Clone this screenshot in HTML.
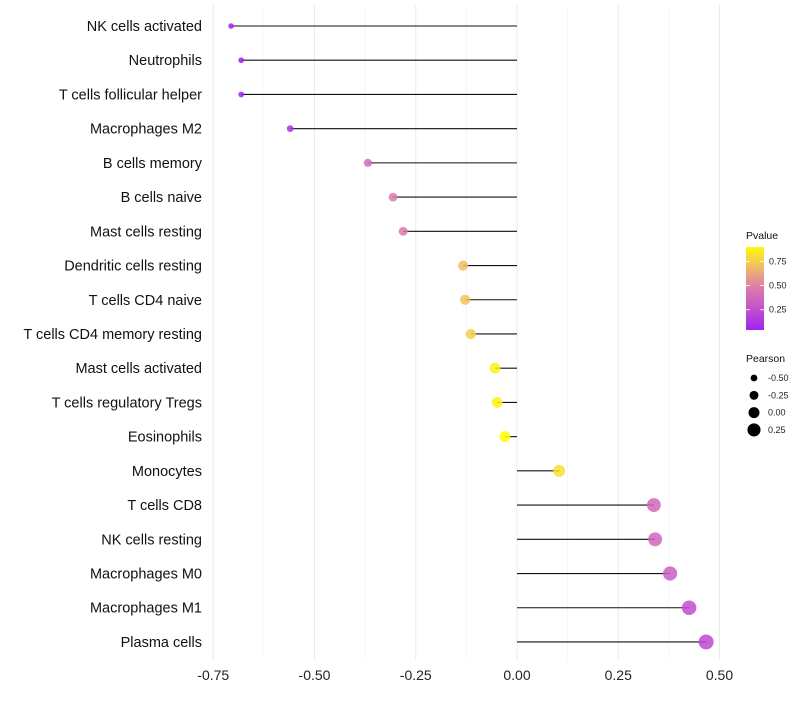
<!DOCTYPE html>
<html><head><meta charset="utf-8"><style>
body{margin:0;background:#fff;font-family:"Liberation Sans",sans-serif;}
svg text{font-family:"Liberation Sans",sans-serif;}
</style></head><body>
<svg id="c" width="800" height="700"></svg>
<script>
const categories=["NK cells activated","Neutrophils","T cells follicular helper","Macrophages M2","B cells memory","B cells naive","Mast cells resting","Dendritic cells resting","T cells CD4 naive","T cells CD4 memory resting","Mast cells activated","T cells regulatory  Tregs ","Eosinophils","Monocytes","T cells CD8","NK cells resting","Macrophages M0","Macrophages M1","Plasma cells"];
const pearson=[-0.706,-0.681,-0.681,-0.560,-0.368,-0.306,-0.281,-0.133,-0.128,-0.114,-0.054,-0.049,-0.030,0.104,0.338,0.341,0.378,0.425,0.467];
const pvalues=[0.03,0.03,0.03,0.10,0.40,0.47,0.47,0.70,0.72,0.76,0.88,0.88,0.92,0.82,0.38,0.36,0.32,0.25,0.22];
const xTicks=[-0.75,-0.5,-0.25,0,0.25,0.5];
const xTickLabels=["-0.75","-0.50","-0.25","0.00","0.25","0.50"];
const pTicks=[0.25,0.5,0.75];
const sizeTicks=[-0.5,-0.25,0,0.25];

const NS="http://www.w3.org/2000/svg";
const svg=document.getElementById('c');
function mk(t,a,p){const e=document.createElementNS(NS,t);for(const k in a)e.setAttribute(k,a[k]);(p||svg).appendChild(e);return e;}
const x=v=>517+v*405;
const y=i=>26+i*34.22;
const r=v=>Math.max(2,5.6+v*4);
const stops=[[0.03,[160,32,240]],[0.3,[200,90,200]],[0.5,[222,128,165]],[0.7,[240,190,100]],[0.92,[255,255,0]]];
function col(p){p=Math.max(0.03,Math.min(0.92,p));for(let i=0;i<stops.length-1;i++){const[a,ca]=stops[i],[b,cb]=stops[i+1];if(p<=b){const t=(p-a)/(b-a);return 'rgb('+ca.map((c,j)=>Math.round(c+(cb[j]-c)*t)).join(',')+')';}}return 'rgb(255,255,0)';}

for(let i=0;i<xTicks.length;i++){
  const g=mk('line',{x1:x(xTicks[i]),x2:x(xTicks[i]),y1:5,y2:660,stroke:'#ebebeb','stroke-width':1});
  
  if(i<xTicks.length-1){const m=(xTicks[i]+xTicks[i+1])/2;const g2=mk('line',{x1:x(m),x2:x(m),y1:5,y2:660,stroke:'#f6f6f6','stroke-width':1});
  }
  const t=mk('text',{x:x(xTicks[i]),y:680,'text-anchor':'middle','font-size':14,fill:'#222'});t.textContent=xTickLabels[i];
  
}
for(let i=0;i<categories.length;i++){
  const yy=y(i);
  const t=mk('text',{x:202,y:yy+5,'text-anchor':'end','font-size':14.5,fill:'#111'});t.textContent=categories[i];
  
  const l=mk('line',{x1:x(0),x2:x(pearson[i]),y1:yy,y2:yy,stroke:'#111','stroke-width':1.1});
  
  const c=mk('circle',{cx:x(pearson[i]),cy:yy,r:r(pearson[i]),fill:col(pvalues[i]),'fill-opacity':0.85});
  
}
const lt=mk('text',{x:746,y:239,'font-size':10.5,fill:'#111'});lt.textContent='Pvalue';

const defs=mk('defs',{});const lg=mk('linearGradient',{id:'g',x1:0,y1:1,x2:0,y2:0},defs);
for(let k=0;k<=10;k++){const p=0.04+k*0.086;mk('stop',{offset:k/10,'stop-color':col(p)},lg);}
const cb=mk('rect',{x:746,y:247,width:18,height:83,fill:'url(#g)'});

const py=p=>330-(p-0.04)*(83/0.86);
for(const p of pTicks){
  mk('line',{x1:746,x2:750,y1:py(p),y2:py(p),stroke:'#fff','stroke-width':0.8});
  mk('line',{x1:760,x2:764,y1:py(p),y2:py(p),stroke:'#fff','stroke-width':0.8});
  const t=mk('text',{x:769,y:py(p)+3,'font-size':9,fill:'#222'});t.textContent=p.toFixed(2);
  
}
const st=mk('text',{x:746,y:362,'font-size':10.5,fill:'#111'});st.textContent='Pearson';

sizeTicks.forEach((v,k)=>{
  const yy=378+k*17.3;
  const c=mk('circle',{cx:754,cy:yy,r:3.4+k*1.05,fill:'#000'});
  
  const t=mk('text',{x:768,y:yy+3,'font-size':9,fill:'#222'});t.textContent=v.toFixed(2);
  
});
</script>
</body></html>
